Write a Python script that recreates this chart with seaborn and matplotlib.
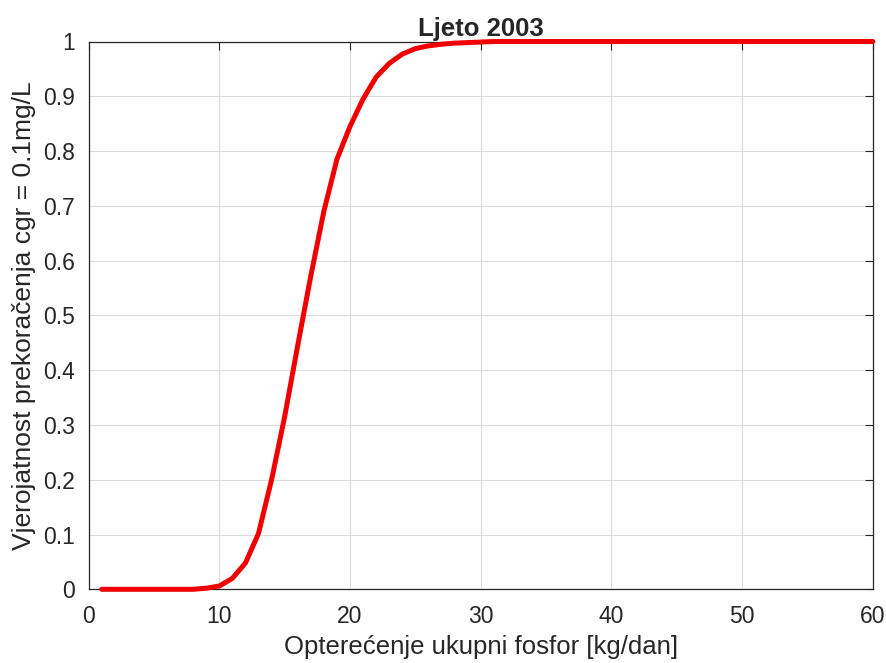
import numpy as np
import matplotlib
matplotlib.use("Agg")
import matplotlib.pyplot as plt
import seaborn as sns

# opterecenje (kg/dan) and probability of exceeding cgr = 0.1 mg/L
load_kg = list(range(1, 61))
prob = ([0.0] * 8 +
        [0.002, 0.006, 0.02, 0.048, 0.102, 0.2, 0.315, 0.445, 0.572, 0.69,
         0.785, 0.845, 0.895, 0.935, 0.96, 0.977, 0.987, 0.992, 0.995, 0.997,
         0.998, 0.999] +
        [1.0] * 30)

title = "Ljeto 2003"
xlab = "Opterećenje ukupni fosfor [kg/dan]"
ylab = "Vjerojatnost prekoračenja cgr = 0.1mg/L"
xticks = [0, 10, 20, 30, 40, 50, 60]
yticks = [0, 0.1, 0.2, 0.3, 0.4, 0.5, 0.6, 0.7, 0.8, 0.9, 1]
ytick_labels = ["0", "0.1", "0.2", "0.3", "0.4", "0.5", "0.6", "0.7", "0.8", "0.9", "1"]

sns.set_style("white")
plt.rcParams['font.family'] = ['Liberation Sans', 'DejaVu Sans']

fig = plt.figure(figsize=(8.87, 6.63), dpi=100)
ax = fig.add_axes([88.6 / 887, 1 - 589.3 / 663, (872.8 - 88.6) / 887, (589.3 - 41.5) / 663])

sns.lineplot(x=load_kg, y=prob, color="#f00000", linewidth=3.6, ax=ax,
             clip_on=False, zorder=5)

ax.set_xlim(0, 60)
ax.set_ylim(0, 1)
ax.set_xticks(xticks)
ax.set_yticks(yticks)
ax.set_yticklabels(ytick_labels)
ax.grid(True, color="#dcdcdc", linewidth=0.8)
ax.tick_params(direction="in", length=6, width=0.8, color="#262626",
               labelsize=16.5, labelcolor="#262626", top=True, right=True)
ax.tick_params(axis="x", pad=11)
ax.tick_params(axis="y", pad=10)
for s in ax.spines.values():
    s.set_color("#262626")
    s.set_linewidth(0.9)

ax.set_title(title, fontsize=18.5, fontweight="bold", pad=4)
ax.set_xlabel(xlab, fontsize=18.5, color="#262626", labelpad=5)
ax.set_ylabel(ylab, fontsize=19, color="#262626", labelpad=5)

fig.savefig("out.png", dpi=100)
